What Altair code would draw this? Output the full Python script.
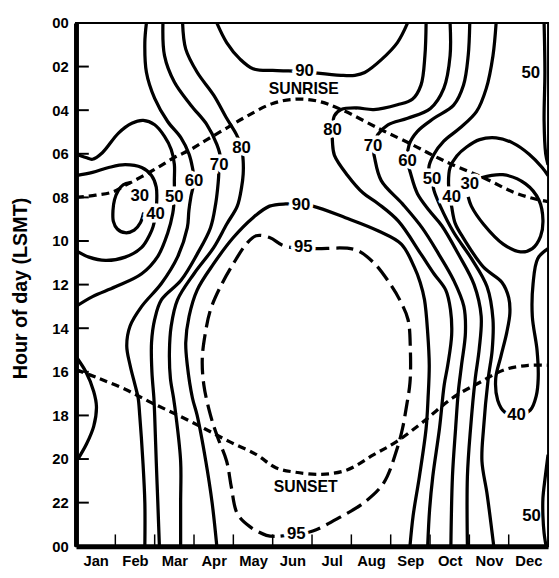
import altair as alt
import pandas as pd

FONT = "Liberation Sans"

MONTHS = ["Jan", "Feb", "Mar", "Apr", "May", "Jun", "Jul", "Aug", "Sep", "Oct", "Nov", "Dec"]
MONTH_CENTERS = [0.5, 1.5, 2.5, 3.5, 4.5, 5.5, 6.5, 7.5, 8.5, 9.5, 10.5, 11.5]
MONTH_BOUNDS = [1, 2, 3, 4, 5, 6, 7, 8, 9, 10, 11]
HOUR_TICKS = [0, 2, 4, 6, 8, 10, 12, 14, 16, 18, 20, 22, 24]
INNER_HOUR_TICKS = [2, 4, 6, 8, 10, 12, 14, 16, 18, 20, 22]

# contour lines as (month position, hour) pairs
C30_LEFT = [(1.72, 8.7), (1.64, 9.15), (1.48, 9.5), (1.25, 9.62), (1.05, 9.45), (0.95, 9.1),
            (0.94, 8.6), (0.98, 8.1), (1.07, 7.7), (1.2, 7.42), (1.38, 7.32)]
C40_LEFT = [(0, 7.0), (0.42, 6.85), (0.83, 6.63), (1.25, 6.5), (1.67, 6.63), (1.92, 7.0), (2.04, 7.53),
            (2.05, 8.28), (2.03, 8.75), (1.96, 9.34), (1.88, 9.69), (1.67, 10.29), (1.25, 10.74),
            (0.75, 10.89), (0.33, 10.74), (0, 10.44)]
C50_LEFT = [(0, 6.02), (0.25, 6.17), (0.42, 6.25), (0.67, 5.95), (1.08, 5.05), (1.42, 4.6), (1.71, 4.47),
            (2.0, 4.67), (2.25, 5.2), (2.42, 5.8), (2.5, 6.48), (2.5, 7.23), (2.5, 8.0), (2.46, 8.73),
            (2.33, 9.64), (2.08, 10.7), (1.67, 11.5), (1.0, 12.1), (0.42, 12.55), (0, 13.0)]
C60_LEFT = [(1.79, 0), (1.75, 0.9), (1.79, 2.26), (2.0, 3.46), (2.33, 4.52), (2.67, 5.27), (2.875, 6.02),
            (2.96, 6.63), (3.0, 7.23), (2.92, 7.98), (2.87, 8.6), (2.83, 9.39), (2.58, 10.74),
            (2.17, 11.95), (1.67, 13.0), (1.375, 13.9), (1.29, 14.8), (1.375, 15.7), (1.5, 16.6),
            (1.58, 17.2), (1.62, 18), (1.7, 20.1), (1.75, 22), (1.75, 24)]
C70_LEFT = [(2.21, 0), (2.25, 1.5), (2.5, 2.71), (2.92, 3.77), (3.33, 4.67), (3.58, 5.57), (3.67, 6.17),
            (3.64, 6.5), (3.625, 7.08), (3.6, 7.6), (3.55, 8.3), (3.42, 9.39), (3.08, 10.6), (2.67, 11.8),
            (2.17, 12.7), (2.0, 13.6), (1.92, 14.66), (1.93, 16.0), (1.98, 17.2), (2.0, 18), (2.04, 20.1),
            (2.08, 22), (2.12, 24)]
C80_LEFT = [(2.71, 0), (2.79, 1.2), (3.08, 2.26), (3.5, 3.31), (3.83, 4.37), (4.08, 5.12), (4.21, 5.72),
            (4.25, 6.33), (4.25, 6.93), (4.21, 7.53), (4.1, 8.4), (3.83, 9.23), (3.5, 10.3), (3.0, 11.5),
            (2.58, 12.7), (2.42, 13.9), (2.375, 15.1), (2.4, 16.3), (2.48, 17.2), (2.54, 18),
            (2.66, 20.1), (2.66, 22), (2.66, 24)]
C90_TOP = [(3.58, 0), (3.83, 0.9), (4.17, 1.66), (4.5, 2.1), (5.0, 2.18), (5.4, 2.2), (5.81, 2.22),
           (6.14, 2.3), (6.74, 2.4), (7.09, 2.4), (7.34, 2.27), (7.77, 1.67), (8.17, 0.9), (8.43, 0)]
C90_MAIN = [(3.58, 24), (3.46, 22), (3.3, 20.1), (3.08, 18), (2.96, 17.2), (2.83, 15.7), (2.79, 14.66),
            (2.875, 13.45), (3.08, 12.25), (3.5, 11.04), (4.0, 9.84), (4.5, 8.93), (4.92, 8.4),
            (5.33, 8.3), (5.7, 8.33), (6.02, 8.4), (6.85, 8.93), (7.69, 9.54), (8.27, 10.14), (8.6, 11.2),
            (8.75, 11.9), (8.86, 12.7), (8.94, 14.2), (8.98, 15.7), (8.95, 17.2), (8.9, 18.6),
            (8.73, 20.8), (8.57, 22.6), (8.49, 24)]
C80_RIGHT = [(8.9, 0), (8.87, 1.5), (8.77, 2.85), (8.55, 3.5), (8.17, 3.75), (7.57, 3.97), (7.14, 3.9),
             (6.74, 3.97), (6.57, 4.26), (6.52, 4.9), (6.52, 5.47), (6.57, 6.07), (6.9, 6.98), (7.3, 7.8),
             (7.69, 8.3), (8.19, 9.08), (8.77, 10.6), (9.1, 11.5), (9.4, 12.25), (9.52, 13.15),
             (9.55, 14.3), (9.45, 15.7), (9.36, 16.6), (9.24, 18.6), (9.07, 20.8), (8.99, 22.3), (8.94, 24)]
C70_RIGHT = [(9.51, 0), (9.51, 1.5), (9.35, 3.0), (9.01, 3.92), (8.43, 4.37), (7.93, 4.67), (7.67, 5.12),
             (7.55, 5.65), (7.59, 6.17), (7.76, 7.23), (8.3, 8.3), (8.8, 9.4), (9.22, 10.6), (9.6, 11.8),
             (9.86, 13.0), (9.9, 14.2), (9.8, 15.7), (9.72, 16.9), (9.65, 18.6), (9.57, 20.8), (9.53, 24)]
C60_RIGHT = [(10.01, 0), (9.97, 1.5), (9.85, 2.86), (9.6, 3.77), (9.1, 4.37), (8.68, 4.97), (8.47, 5.57),
             (8.43, 6.33), (8.51, 6.93), (8.68, 7.83), (8.98, 8.6), (9.3, 9.3), (9.72, 10.6),
             (10.12, 12.0), (10.3, 13.45), (10.25, 14.96), (10.15, 16.3), (10.03, 18.6), (9.95, 20.8),
             (9.95, 24)]
C50_RIGHT = [(10.68, 0), (10.6, 1.5), (10.43, 3.0), (10.18, 4.07), (9.76, 4.82), (9.35, 5.42), (9.1, 6.02),
             (8.97, 6.63), (9.05, 7.15), (9.1, 7.68), (9.26, 8.4), (9.6, 9.6), (10.05, 10.8),
             (10.45, 12.1), (10.6, 13.6), (10.58, 15.0), (10.48, 16.3), (10.36, 18.6), (10.32, 20.1),
             (10.45, 21.6), (10.62, 24)]
C40_RIGHT = [(12, 7.0), (11.85, 6.63), (11.52, 6.02), (11.1, 5.5), (10.68, 5.27), (10.26, 5.35),
             (9.93, 5.69), (9.68, 6.1), (9.51, 6.63), (9.47, 7.38), (9.51, 7.98), (9.55, 8.43),
             (9.64, 9.19), (9.86, 9.9), (10.36, 11.2), (10.83, 11.9), (11.0, 12.6), (11.03, 13.3),
             (10.95, 14.2), (10.8, 15.3), (10.67, 16.3), (10.72, 17.3), (10.9, 17.85), (11.2, 18.0),
             (11.55, 17.75), (11.7, 17.1), (11.75, 16.3), (11.72, 15.0), (11.6, 13.45), (11.62, 11.95),
             (11.74, 10.8), (12, 10.35)]
C30_RIGHT = [(10.3, 7.1), (10.85, 6.96), (11.43, 7.38), (11.77, 8.13), (11.87, 9.04), (11.81, 9.79),
             (11.6, 10.35), (11.3, 10.5), (10.86, 10.14), (10.36, 9.23), (10.05, 8.4), (9.97, 7.98)]
C50_EDGE_TOP = [(11.9, 0), (11.92, 2.26), (11.9, 4.5), (11.94, 6.0), (12, 6.5)]
C50_EDGE_BOTTOM = [(12, 19.8), (11.93, 20.8), (11.87, 21.8), (11.87, 22.6), (11.9, 23.4), (11.95, 24)]
C_LEFT_EVENING = [(0, 15.3), (0.25, 16.0), (0.45, 16.9), (0.52, 17.6), (0.45, 18.5), (0.27, 19.3), (0.05, 20.0)]

C95 = [(5.05, 23.55), (4.84, 23.5), (4.42, 23.1), (4.1, 22.5), (3.95, 21.3), (3.83, 20.1), (3.6, 19.0),
       (3.42, 18), (3.25, 16.6), (3.21, 15.4), (3.29, 14.2), (3.42, 13.15), (3.67, 12.1), (4.0, 11.04),
       (4.33, 10.14), (4.58, 9.76), (4.92, 9.84), (5.25, 10.2), (5.5, 10.3), (5.8, 10.32), (6.1, 10.35),
       (7.1, 10.4), (7.57, 11.0), (7.98, 11.95), (8.23, 12.7), (8.44, 13.6), (8.5, 15.0), (8.49, 16.5),
       (8.4, 17.6), (8.3, 18.6), (8.15, 19.6), (7.82, 21.1), (7.32, 22.0), (6.73, 22.65), (6.02, 23.3),
       (5.6, 23.45), (5.1, 23.55)]

SUNRISE = [(0, 8.0), (0.5, 7.9), (0.92, 7.76), (1.25, 7.45), (1.67, 7.05), (2.08, 6.63), (2.5, 6.17),
           (2.92, 5.8), (3.33, 5.35), (3.83, 4.82), (4.33, 4.29), (5.0, 3.69), (5.56, 3.5), (6.14, 3.58),
           (6.74, 3.97), (7.74, 4.88), (8.57, 5.6), (9.07, 6.07), (9.57, 6.5), (10.4, 7.13),
           (11.08, 7.73), (11.58, 8.03), (12, 8.2)]
SUNSET = [(0, 15.9), (0.58, 16.3), (1.25, 16.8), (1.9, 17.4), (2.58, 17.98), (3.26, 18.6), (3.9, 19.2),
          (4.59, 19.8), (5.08, 20.4), (5.56, 20.6), (6.24, 20.7), (6.89, 20.5), (7.57, 19.8),
          (8.15, 19.2), (8.82, 18.3), (9.57, 17.2), (10.25, 16.5), (10.9, 15.9), (11.5, 15.7), (12, 15.7)]

# labels sitting on contour lines (they break the line)
LINE_LABELS = [("30", 1.62, 7.95), ("40", 2.02, 8.75), ("50", 2.5, 8.0), ("60", 3.0, 7.23),
               ("70", 3.64, 6.5), ("80", 4.21, 5.72), ("90", 5.81, 2.22), ("80", 6.52, 4.9),
               ("70", 7.55, 5.65), ("60", 8.43, 6.33), ("50", 9.05, 7.15), ("40", 9.55, 7.98),
               ("30", 10.01, 7.38), ("90", 5.72, 8.33), ("95", 5.78, 10.3), ("95", 5.6, 23.45),
               ("40", 11.2, 18.0)]
FREE_LABELS = [("50", 11.56, 2.3), ("50", 11.58, 22.6)]
SUN_LABELS = [("SUNRISE", 5.79, 3.03), ("SUNSET", 5.84, 21.3)]

SOLID = {
    "c30l": C30_LEFT, "c40l": C40_LEFT, "c50l": C50_LEFT, "c60l": C60_LEFT, "c70l": C70_LEFT,
    "c80l": C80_LEFT, "c90t": C90_TOP, "c90m": C90_MAIN, "c80r": C80_RIGHT, "c70r": C70_RIGHT,
    "c60r": C60_RIGHT, "c50r": C50_RIGHT, "c40r": C40_RIGHT, "c30r": C30_RIGHT,
    "c50et": C50_EDGE_TOP, "c50eb": C50_EDGE_BOTTOM, "cle": C_LEFT_EVENING,
}
DASHED = {"c95": C95}
SUN = {"sunrise": SUNRISE, "sunset": SUNSET}


def to_df(d):
    rows = []
    for name, pts in d.items():
        for k, (m, h) in enumerate(pts):
            rows.append({"name": name, "i": k, "m": m, "h": h})
    return pd.DataFrame(rows)


def lab_df(lst):
    return pd.DataFrame([{"t": t, "m": m, "h": h} for t, m, h in lst])


labels_js = "[" + ",".join("'%s'" % s for s in MONTHS) + "]"

xs = alt.Scale(domain=[0, 12], nice=False, zero=False)
ys = alt.Scale(domain=[0, 24], nice=False, zero=False, reverse=True)

x_axis = alt.Axis(values=MONTH_CENTERS, labelExpr=labels_js + "[floor(datum.value)]", ticks=False,
                  domainWidth=5, domainColor="black", labelFontSize=15, labelFontWeight="bold",
                  labelPadding=8, title=None, grid=False, labelFont=FONT, labelColor="black")
y_axis = alt.Axis(values=HOUR_TICKS,
                  labelExpr="datum.value == 24 ? '00' : (datum.value < 10 ? '0' + datum.value : '' + datum.value)",
                  ticks=False, domainWidth=5, domainColor="black", labelFontSize=15,
                  labelFontWeight="bold", labelPadding=8, grid=False, labelFont=FONT, labelColor="black",
                  title="Hour of day (LSMT)", titleFont=FONT, titleFontSize=20, titleFontWeight="bold",
                  titleX=-56, titleY=269, titleAngle=270, titleAlign="center", titleBaseline="middle",
                  titleColor="black")

X = alt.X("m:Q", scale=xs, axis=x_axis)
Y = alt.Y("h:Q", scale=ys, axis=y_axis)

xticks = alt.Chart(pd.DataFrame({"m": MONTH_BOUNDS})).mark_rule(color="black", strokeWidth=1.5).encode(
    x=X, y=alt.value(531), y2=alt.value(519))
yticks = alt.Chart(pd.DataFrame({"h": INNER_HOUR_TICKS})).mark_rule(color="black", strokeWidth=2).encode(
    y=Y, x=alt.value(0), x2=alt.value(13))

solid = alt.Chart(to_df(SOLID)).mark_line(color="black", strokeWidth=3.3, interpolate="catmull-rom",
                                          clip=True).encode(x=X, y=Y, detail="name:N", order="i:Q")
dashed = alt.Chart(to_df(DASHED)).mark_line(color="black", strokeWidth=3.3, interpolate="catmull-rom",
                                            strokeDash=[17, 7], clip=True).encode(
    x=X, y=Y, detail="name:N", order="i:Q")
sun = alt.Chart(to_df(SUN)).mark_line(color="black", strokeWidth=3.3, interpolate="catmull-rom",
                                      strokeDash=[8, 5], clip=True).encode(
    x=X, y=Y, detail="name:N", order="i:Q")

halo = alt.Chart(lab_df(LINE_LABELS)).mark_text(font=FONT, fontSize=17, fontWeight="bold", color="white",
                                                stroke="white", strokeWidth=7).encode(x=X, y=Y, text="t:N")
text = alt.Chart(lab_df(LINE_LABELS + FREE_LABELS)).mark_text(font=FONT, fontSize=17, fontWeight="bold",
                                                               color="black").encode(x=X, y=Y, text="t:N")
suntext = alt.Chart(lab_df(SUN_LABELS)).mark_text(font=FONT, fontSize=16, fontWeight="bold",
                                                  color="black").encode(x=X, y=Y, text="t:N")

chart = alt.layer(xticks, yticks, solid, dashed, sun, halo, text, suntext).properties(
    width=479, height=531,
    autosize=alt.AutoSizeParams(type="none"),
    padding={"left": 69, "top": 11, "right": 3, "bottom": 26},
).configure_view(stroke="black", strokeWidth=2)

chart.save("out.html", embed_options={"renderer": "svg", "actions": False})
